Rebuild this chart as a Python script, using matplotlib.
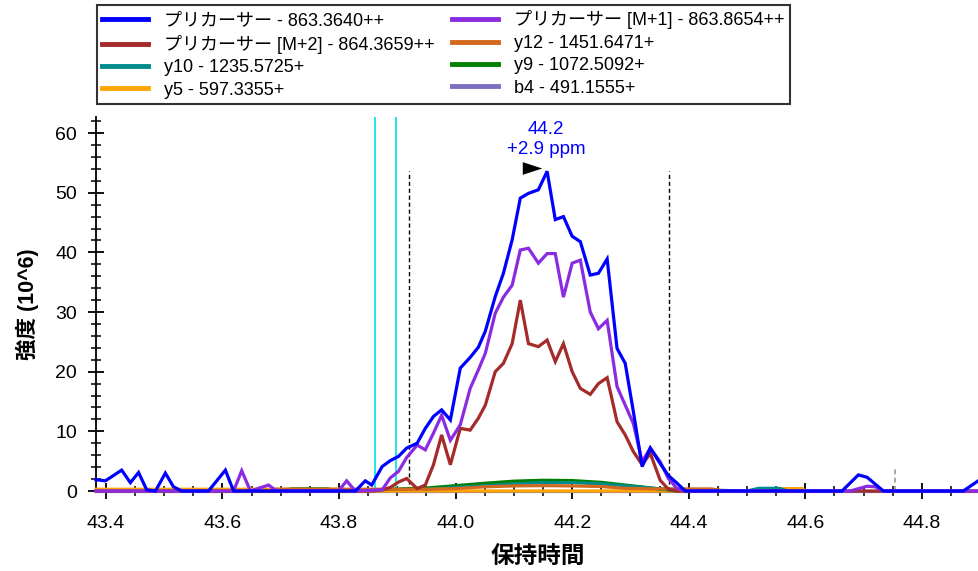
import matplotlib
matplotlib.use("Agg")
import matplotlib.pyplot as plt
from matplotlib.ticker import MultipleLocator
from matplotlib.lines import Line2D

plt.rcParams['font.family'] = ['Liberation Sans', 'Noto Sans CJK JP', 'DejaVu Sans']

# ---- data (retention time in min, intensity in 10^6) ----
blue_x = [43.383, 43.399, 43.427, 43.442, 43.456, 43.470, 43.485, 43.502, 43.516, 43.530,
          43.576, 43.605, 43.619, 43.828, 43.845, 43.856, 43.874, 43.888, 43.902, 43.916,
          43.934, 43.948, 43.962, 43.976, 43.991, 44.008, 44.025, 44.039, 44.051, 44.068,
          44.082, 44.097, 44.111, 44.125, 44.142, 44.157, 44.171, 44.185, 44.200, 44.214,
          44.231, 44.245, 44.260, 44.277, 44.291, 44.305, 44.320, 44.334, 44.351, 44.365,
          44.380, 44.394, 44.663, 44.691, 44.706, 44.734, 44.871, 44.898]
blue_y = [1.9, 1.7, 3.5, 1.4, 3.1, 0.2, 0.0, 3.0, 0.7, 0.0,
          0.0, 3.5, 0.0, 0.0, 1.7, 1.0, 4.1, 5.1, 5.8, 7.2,
          8.0, 10.5, 12.5, 13.6, 11.9, 20.6, 22.4, 24.1, 26.8, 32.6,
          36.5, 42.1, 49.1, 49.9, 50.5, 53.6, 45.5, 46.0, 42.7, 41.8,
          36.2, 36.5, 38.9, 23.9, 21.4, 13.3, 4.1, 7.2, 4.6, 2.6,
          1.3, 0.0, 0.0, 2.7, 2.3, 0.0, 0.0, 1.8]

m1_x = [43.383, 43.619, 43.633, 43.648, 43.679, 43.693, 43.799, 43.813, 43.828, 43.874,
        43.888, 43.902, 43.916, 43.934, 43.948, 43.962, 43.976, 43.991, 44.008, 44.025,
        44.039, 44.051, 44.068, 44.082, 44.097, 44.111, 44.125, 44.142, 44.157, 44.171,
        44.185, 44.200, 44.214, 44.231, 44.245, 44.260, 44.277, 44.291, 44.305, 44.320,
        44.334, 44.351, 44.365, 44.380, 44.394, 44.677, 44.706, 44.720, 44.734, 44.898]
m1_y = [0.0, 0.0, 3.4, 0.0, 1.0, 0.0, 0.0, 1.7, 0.0, 0.2,
        2.2, 3.3, 5.6, 7.7, 6.9, 9.7, 12.7, 8.5, 11.1, 17.2,
        20.3, 23.1, 29.8, 32.5, 34.5, 40.4, 40.7, 38.2, 39.8, 39.8,
        32.5, 38.2, 38.7, 30.0, 27.2, 28.6, 17.5, 14.4, 11.3, 4.9,
        7.2, 4.9, 2.1, 0.4, 0.0, 0.0, 0.8, 0.7, 0.0, 0.0]

m2_x = [43.383, 43.859, 43.874, 43.888, 43.902, 43.916, 43.934, 43.948, 43.962, 43.976,
        43.991, 44.008, 44.025, 44.039, 44.051, 44.068, 44.082, 44.097, 44.111, 44.125,
        44.142, 44.157, 44.171, 44.185, 44.200, 44.214, 44.231, 44.245, 44.260, 44.277,
        44.291, 44.305, 44.320, 44.334, 44.351, 44.365, 44.380, 44.898]
m2_y = [0.0, 0.0, 0.2, 0.6, 1.5, 2.1, 0.4, 1.0, 4.4, 9.4,
        4.4, 10.5, 10.2, 12.2, 14.4, 20.0, 21.4, 24.7, 32.0, 24.7,
        24.2, 25.3, 21.7, 24.7, 20.0, 17.2, 16.2, 18.0, 19.0, 11.6,
        9.4, 6.6, 4.4, 6.3, 1.8, 0.3, 0.0, 0.0]

y12_x = [43.690, 43.950, 44.000, 44.050, 44.100, 44.150, 44.200, 44.250, 44.290, 44.340, 44.440, 44.460]
y12_y = [0.3, 0.3, 0.4, 0.7, 0.85, 0.9, 0.85, 0.75, 0.45, 0.35, 0.35, 0.0]

y10_x = [43.950, 44.000, 44.050, 44.100, 44.150, 44.200, 44.250, 44.300, 44.350, 44.500, 44.520, 44.555, 44.570]
y10_y = [0.3, 0.6, 0.9, 1.2, 1.4, 1.4, 1.2, 0.8, 0.35, 0.0, 0.45, 0.45, 0.0]

y9_x = [43.690, 43.720, 43.780, 43.800, 43.950, 44.000, 44.050, 44.100, 44.150, 44.200, 44.250, 44.300, 44.350, 44.380]
y9_y = [0.0, 0.35, 0.35, 0.0, 0.5, 0.9, 1.3, 1.65, 1.8, 1.75, 1.45, 0.9, 0.35, 0.0]

y5_x = [43.383, 43.800, 43.810, 44.550, 44.560, 44.595, 44.600]
y5_y = [0.3, 0.3, 0.0, 0.0, 0.4, 0.4, 0.0]

b4_x = [43.383, 44.898]
b4_y = [0.0, 0.0]

labels = ['プリカーサー - 863.3640++', 'プリカーサー [M+1] - 863.8654++',
          'プリカーサー [M+2] - 864.3659++', 'y12 - 1451.6471+',
          'y10 - 1235.5725+', 'y9 - 1072.5092+',
          'y5 - 597.3355+', 'b4 - 491.1555+']
colors = ['#0000FF', '#8A2BE2', '#A52A2A', '#D2691E', '#008B8B', '#008000', '#FFA500', '#7B6FBF']

peak_rt = 44.157
peak_label = '44.2\n+2.9 ppm'
boundary_rt = [43.920, 44.366]
boundary_top = 53.6
cyan_rt = [43.862, 43.898]
gray_rt = 44.754

fig = plt.figure(figsize=(9.79, 5.71), dpi=100)
ax = fig.add_axes([96/979, 1-491/571, (979-96)/979, (491-117)/571])

series = [(b4_x, b4_y, colors[7]), (y5_x, y5_y, colors[6]), (y9_x, y9_y, colors[5]),
          (y10_x, y10_y, colors[4]), (y12_x, y12_y, colors[3]), (m2_x, m2_y, colors[2]),
          (m1_x, m1_y, colors[1]), (blue_x, blue_y, colors[0])]
for i, (xs, ys, c) in enumerate(series):
    ax.plot(xs, ys, color=c, lw=2.3, zorder=5 + i, clip_on=False, solid_joinstyle='miter')

for rt in cyan_rt:
    ax.axvline(rt, color='#1EE6E6', lw=1.4, zorder=3)
for rt in boundary_rt:
    ax.plot([rt, rt], [0, boundary_top], color='black', lw=1.0, ls=(0, (3, 2)), zorder=4)
ax.plot([gray_rt, gray_rt], [0, 3.9], color='#999999', lw=1.2, ls=(0, (3, 2)), zorder=4)

tri = [(-1, -0.65), (1, 0), (-1, 0.65), (-1, -0.65)]
ax.plot([44.131], [54.2], marker=tri, color='black', ms=14, mew=0, zorder=20, clip_on=False)
ax.text(peak_rt - 0.002, 55.8, peak_label, color='#0000FF', ha='center', va='bottom',
        fontsize=13.5, linespacing=1.25)

ax.set_xlim(43.383, 44.898)
ax.set_ylim(0, 62.7)
ax.xaxis.set_major_locator(MultipleLocator(0.2))
ax.xaxis.set_minor_locator(MultipleLocator(0.05))
ax.yaxis.set_major_locator(MultipleLocator(10))
ax.yaxis.set_minor_locator(MultipleLocator(2))
ax.xaxis.set_major_formatter(matplotlib.ticker.FormatStrFormatter('%.1f'))
for s in ['top', 'right']:
    ax.spines[s].set_visible(False)
for s in ['left', 'bottom']:
    ax.spines[s].set_linewidth(1.3)
ax.tick_params(which='major', direction='inout', length=11, width=1.3, labelsize=14)
ax.tick_params(which='minor', direction='inout', length=7, width=1.1)
ax.tick_params(axis='x', which='major', pad=12)
ax.tick_params(axis='y', which='major', pad=8)

ax.set_xlabel('保持時間', fontsize=17, fontweight='bold', labelpad=9)
ax.set_ylabel('強度 (10^6)', fontsize=15.5, fontweight='bold', labelpad=12)

# legend filled row-wise like the reference (matplotlib fills by column)
order = [0, 2, 4, 6, 1, 3, 5, 7]
handles = [Line2D([0], [0], color=colors[k], lw=3.5) for k in order]
leg = fig.legend(handles, [labels[k] for k in order], ncol=2, loc='upper left',
                 bbox_to_anchor=(97/979, 1-5/571), fontsize=13,
                 frameon=True, fancybox=False, edgecolor='black',
                 handlelength=2.5, handletextpad=0.9, columnspacing=1.0,
                 labelspacing=0.3, borderpad=0.3, borderaxespad=0)
leg.get_frame().set_linewidth(1.5)

fig.savefig('out.png', dpi=100)
